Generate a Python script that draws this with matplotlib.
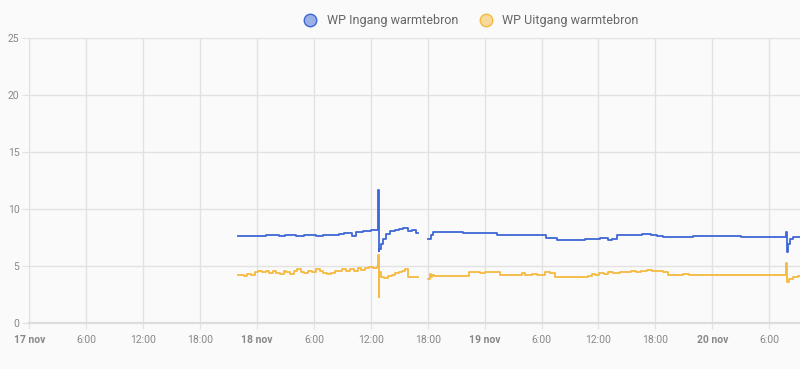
import numpy as np
import matplotlib.pyplot as plt
from matplotlib.lines import Line2D

plt.rcParams['font.family'] = ['Roboto', 'DejaVu Sans']

# hours since 17 nov 00:00; nan = gap in data
ingang_uur = [22.0, 23.5, 24.2, 25.0, 26.3, 27.0, 28.1, 29.0, 30.2, 31.0, 32.0, 32.6,
              33.2, 34.0, 34.4, 35.2, 36.0, 36.78, 36.82, 36.88, 37.05, 37.3, 37.6, 38.0,
              38.5, 39.0, 39.4, 39.9, 40.3, 40.8, 41.0,
              42.05, 42.3, 42.6, 45.7, 46.5, 47.0, 49.3, 50.5, 52.0, 54.5, 55.6, 57.0,
              58.6, 60.2, 61.0, 61.4, 61.9, 64.6, 65.5, 66.2, 66.8, 70.0, 75.0, 79.8,
              79.85, 79.95, 80.2, 80.5, 81.0, 81.4]
ingang_temp = [7.6, 7.62, 7.65, 7.7, 7.62, 7.68, 7.6, 7.7, 7.65, 7.68, 7.75, 7.8,
               7.85, 7.65, 7.95, 8.1, 8.15, 11.7, 6.3, 6.5, 6.9, 7.4, 7.8, 8.05,
               8.15, 8.25, 8.3, 8.1, 8.15, 7.9, np.nan,
               7.35, 7.7, 7.98, 7.87, 7.9, 7.85, 7.7, 7.72, 7.68, 7.43, 7.25, 7.28,
               7.38, 7.45, 7.25, 7.4, 7.7, 7.8, 7.75, 7.65, 7.58, 7.6, 7.57, 7.95,
               6.25, 6.9, 7.4, 7.5, 7.55, 7.55]

uitgang_uur = [22.0, 22.6, 23.0, 23.4, 23.8, 24.1, 24.5, 24.9, 25.3, 25.7, 26.0, 26.4,
               26.8, 27.1, 27.5, 27.9, 28.2, 28.6, 29.0, 29.4, 29.8, 30.2, 30.6, 31.0,
               31.4, 31.8, 32.2, 32.6, 33.0, 33.4, 33.8, 34.2, 34.6, 35.0, 35.4, 35.8,
               36.2, 36.6, 36.78, 36.84, 36.9, 37.05, 37.4, 37.8, 38.2, 38.6, 39.0, 39.3,
               39.6, 39.96, 40.8, 41.0,
               42.05, 42.2, 42.35, 42.5, 42.7, 46.4, 47.5, 48.0, 49.6, 51.0, 51.9, 52.3,
               53.0, 53.5, 54.4, 54.9, 55.4, 58.9, 59.3, 59.6, 60.1, 60.6, 61.0, 61.5,
               62.3, 62.8, 63.4, 64.0, 64.5, 65.1, 65.6, 66.2, 66.8, 67.3, 68.9, 69.5,
               79.8, 79.9, 80.1, 80.5, 81.0, 81.4]
uitgang_temp = [4.2, 4.15, 4.3, 4.2, 4.45, 4.6, 4.5, 4.6, 4.4, 4.55, 4.35, 4.3,
                4.6, 4.45, 4.3, 4.55, 4.7, 4.5, 4.35, 4.6, 4.45, 4.7, 4.55, 4.4,
                4.3, 4.35, 4.6, 4.55, 4.75, 4.6, 4.7, 4.55, 4.8, 4.65, 4.85, 4.95,
                4.8, 4.9, 6.0, 2.3, 4.5, 4.0, 3.95, 4.1, 4.2, 4.35, 4.5, 4.6,
                4.75, 4.05, 4.05, np.nan,
                3.9, 4.3, 4.0, 4.2, 4.15, 4.45, 4.4, 4.45, 4.2, 4.25, 4.35, 4.25,
                4.3, 4.2, 4.45, 4.35, 4.05, 4.15, 4.3, 4.2, 4.4, 4.3, 4.45, 4.35,
                4.5, 4.45, 4.55, 4.5, 4.6, 4.65, 4.55, 4.6, 4.45, 4.2, 4.3, 4.22,
                5.3, 3.6, 3.85, 4.0, 4.1, 4.1]

x_ticks = [0, 6, 12, 18, 24, 30, 36, 42, 48, 54, 60, 66, 72, 78]
x_labels = ['17 nov', '6:00', '12:00', '18:00', '18 nov', '6:00', '12:00',
            '18:00', '19 nov', '6:00', '12:00', '18:00', '20 nov', '6:00']
y_ticks = [0, 5, 10, 15, 20, 25]

blauw = '#3d67d6'
oranje = '#f5ba3f'
bg = '#fafafa'

fig = plt.figure(figsize=(8, 3.69), dpi=100, facecolor=bg)
ax = fig.add_axes([0.0366, 0.1247, 0.9634, 0.7724], facecolor=bg)

ax.plot(ingang_uur, ingang_temp, color=blauw, lw=1.3, drawstyle='steps-post')
ax.plot(uitgang_uur, uitgang_temp, color=oranje, lw=1.3, drawstyle='steps-post')

ax.set_xlim(0, 81.24)
ax.set_ylim(0, 25)
ax.set_xticks(x_ticks)
ax.set_xticklabels(x_labels)
for lbl in ax.get_xticklabels():
    if 'nov' in lbl.get_text():
        lbl.set_fontweight('bold')
        lbl.set_color('#666666')
ax.set_yticks(y_ticks)

ax.grid(True, color='#e2e2e2', lw=1)
ax.set_axisbelow(True)
for s in ['top', 'right']:
    ax.spines[s].set_visible(False)
ax.spines['left'].set_color('#e2e2e2')
ax.spines['bottom'].set_color('#dddddd')
ax.spines['bottom'].set_linewidth(1.6)
ax.tick_params(axis='x', length=4, color='#e2e2e2', labelsize=7.5, labelcolor='#888888', pad=5)
ax.tick_params(axis='y', length=5, color='#e2e2e2', labelsize=7.5, labelcolor='#888888', pad=2)

handles = [
    Line2D([], [], ls='none', marker='o', markersize=9,
           markerfacecolor=(0.24, 0.4, 0.84, 0.5), markeredgecolor=blauw),
    Line2D([], [], ls='none', marker='o', markersize=9,
           markerfacecolor=(0.96, 0.73, 0.25, 0.5), markeredgecolor=oranje),
]
fig.legend(handles, ['WP Ingang warmtebron', 'WP Uitgang warmtebron'],
           loc='center', bbox_to_anchor=(0.585, 0.944), ncol=2, frameon=False,
           fontsize=9, labelcolor='#666666', handletextpad=0.3, columnspacing=1.2)

fig.savefig('out.png', dpi=100, facecolor=bg)
